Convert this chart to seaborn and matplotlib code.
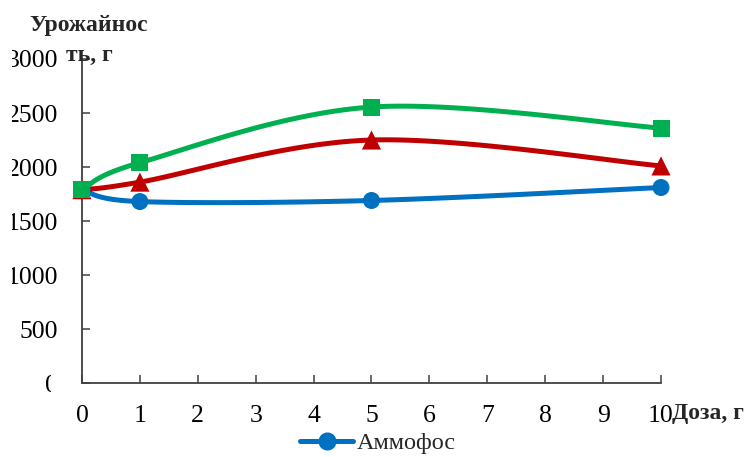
import numpy as np
import pandas as pd
import matplotlib
matplotlib.use('Agg')
import matplotlib.pyplot as plt
import seaborn as sns
from matplotlib.lines import Line2D
from matplotlib.transforms import Bbox

sns.set_style('white')
plt.rcParams['font.family'] = ['Liberation Serif', 'DejaVu Serif']

doses = [0, 1, 5, 10]
ammofos = [1790, 1680, 1690, 1810]
series_red = [1790, 1860, 2250, 2010]
series_green = [1790, 2040, 2555, 2360]

names = ['Аммофос', 'Серия 2', 'Серия 3']
colors = ['#0070C0', '#C00000', '#00B050']
markers = ['o', '^', 's']
sizes = [150, 190, 150]

df = pd.concat([
    pd.DataFrame({'dose': doses, 'yield': vals, 'series': nm})
    for nm, vals in zip(names, [ammofos, series_red, series_green])
])


def smooth(xs, ys, n=40):
    # Excel-like smoothed line (cubic Bezier through the points)
    p = np.column_stack([xs, ys]).astype(float)
    p_ext = np.vstack([p[0], p, p[-1]])
    out = []
    t = np.linspace(0, 1, n)[:, None]
    for i in range(len(p) - 1):
        p0, p1, p2, p3 = p_ext[i], p_ext[i + 1], p_ext[i + 2], p_ext[i + 3]
        c1 = p1 + (p2 - p0) / 6
        c2 = p2 - (p3 - p1) / 6
        seg = ((1 - t) ** 3) * p1 + 3 * ((1 - t) ** 2) * t * c1 + 3 * (1 - t) * t ** 2 * c2 + t ** 3 * p2
        out.append(seg)
    out = np.vstack(out)
    return out[:, 0], out[:, 1]


fig = plt.figure(figsize=(7.48, 4.57), dpi=100)
ax = fig.add_axes([0.1096, 0.1619, 0.7741, 0.709])

for nm, c, m, s in zip(names, colors, markers, sizes):
    sub = df[df['series'] == nm]
    sx, sy = smooth(sub['dose'].values, sub['yield'].values)
    ax.plot(sx, sy, color=c, lw=3.6, solid_capstyle='round', zorder=2, clip_on=False)
    sns.scatterplot(data=sub, x='dose', y='yield', color=c, marker=m,
                    s=s, edgecolor='none', ax=ax, zorder=3, legend=False,
                    clip_on=False)

ax.set_xlim(0, 10)
ax.set_ylim(0, 3000)
ax.set_xticks(range(0, 11))
ax.set_yticks(range(0, 3001, 500))
ax.set_xlabel('')
ax.set_ylabel('')
sns.despine(ax=ax)
for sp in ['left', 'bottom']:
    ax.spines[sp].set_color('#404040')
    ax.spines[sp].set_linewidth(1.3)
ax.tick_params(axis='both', direction='in', length=6, width=1.1, color='#404040',
               labelsize=18.5, colors='black')
ax.tick_params(axis='y', pad=17)
ax.tick_params(axis='x', pad=16)
ax.tick_params(axis='both', which='both', left=True, bottom=True)

# y labels are cut at the left edge in the original, and the "0" is half hidden
fig.canvas.draw()
for i, lbl in enumerate(ax.get_yticklabels()):
    bb = lbl.get_window_extent()
    x1 = bb.x1 + 5 if i > 0 else bb.x0 + (bb.x1 - bb.x0) * 0.4
    lbl.set_clip_box(Bbox.from_extents(12, bb.y0 - 10, x1, bb.y1 + 10))
    lbl.set_clip_on(True)

fig.text(89 / 748, 1 - 25 / 457, 'Урожайнос', ha='center', va='center',
         fontsize=17, fontweight='bold')
fig.text(89 / 748, 1 - 55 / 457, 'ть, г', ha='center', va='center',
         fontsize=17, fontweight='bold')
fig.text(672 / 748, 1 - 413 / 457, 'Доза, г', ha='left', va='center',
         fontsize=17, fontweight='bold')

h = Line2D([0], [0], color=colors[0], lw=3.6, marker='o', markersize=12)
fig.legend([h], [names[0]], loc='center', bbox_to_anchor=(378 / 748, 1 - 443 / 457),
           frameon=False, fontsize=17.5, handlelength=2.2, handletextpad=0.15,
           borderpad=0)

fig.savefig('out.png', dpi=100)
